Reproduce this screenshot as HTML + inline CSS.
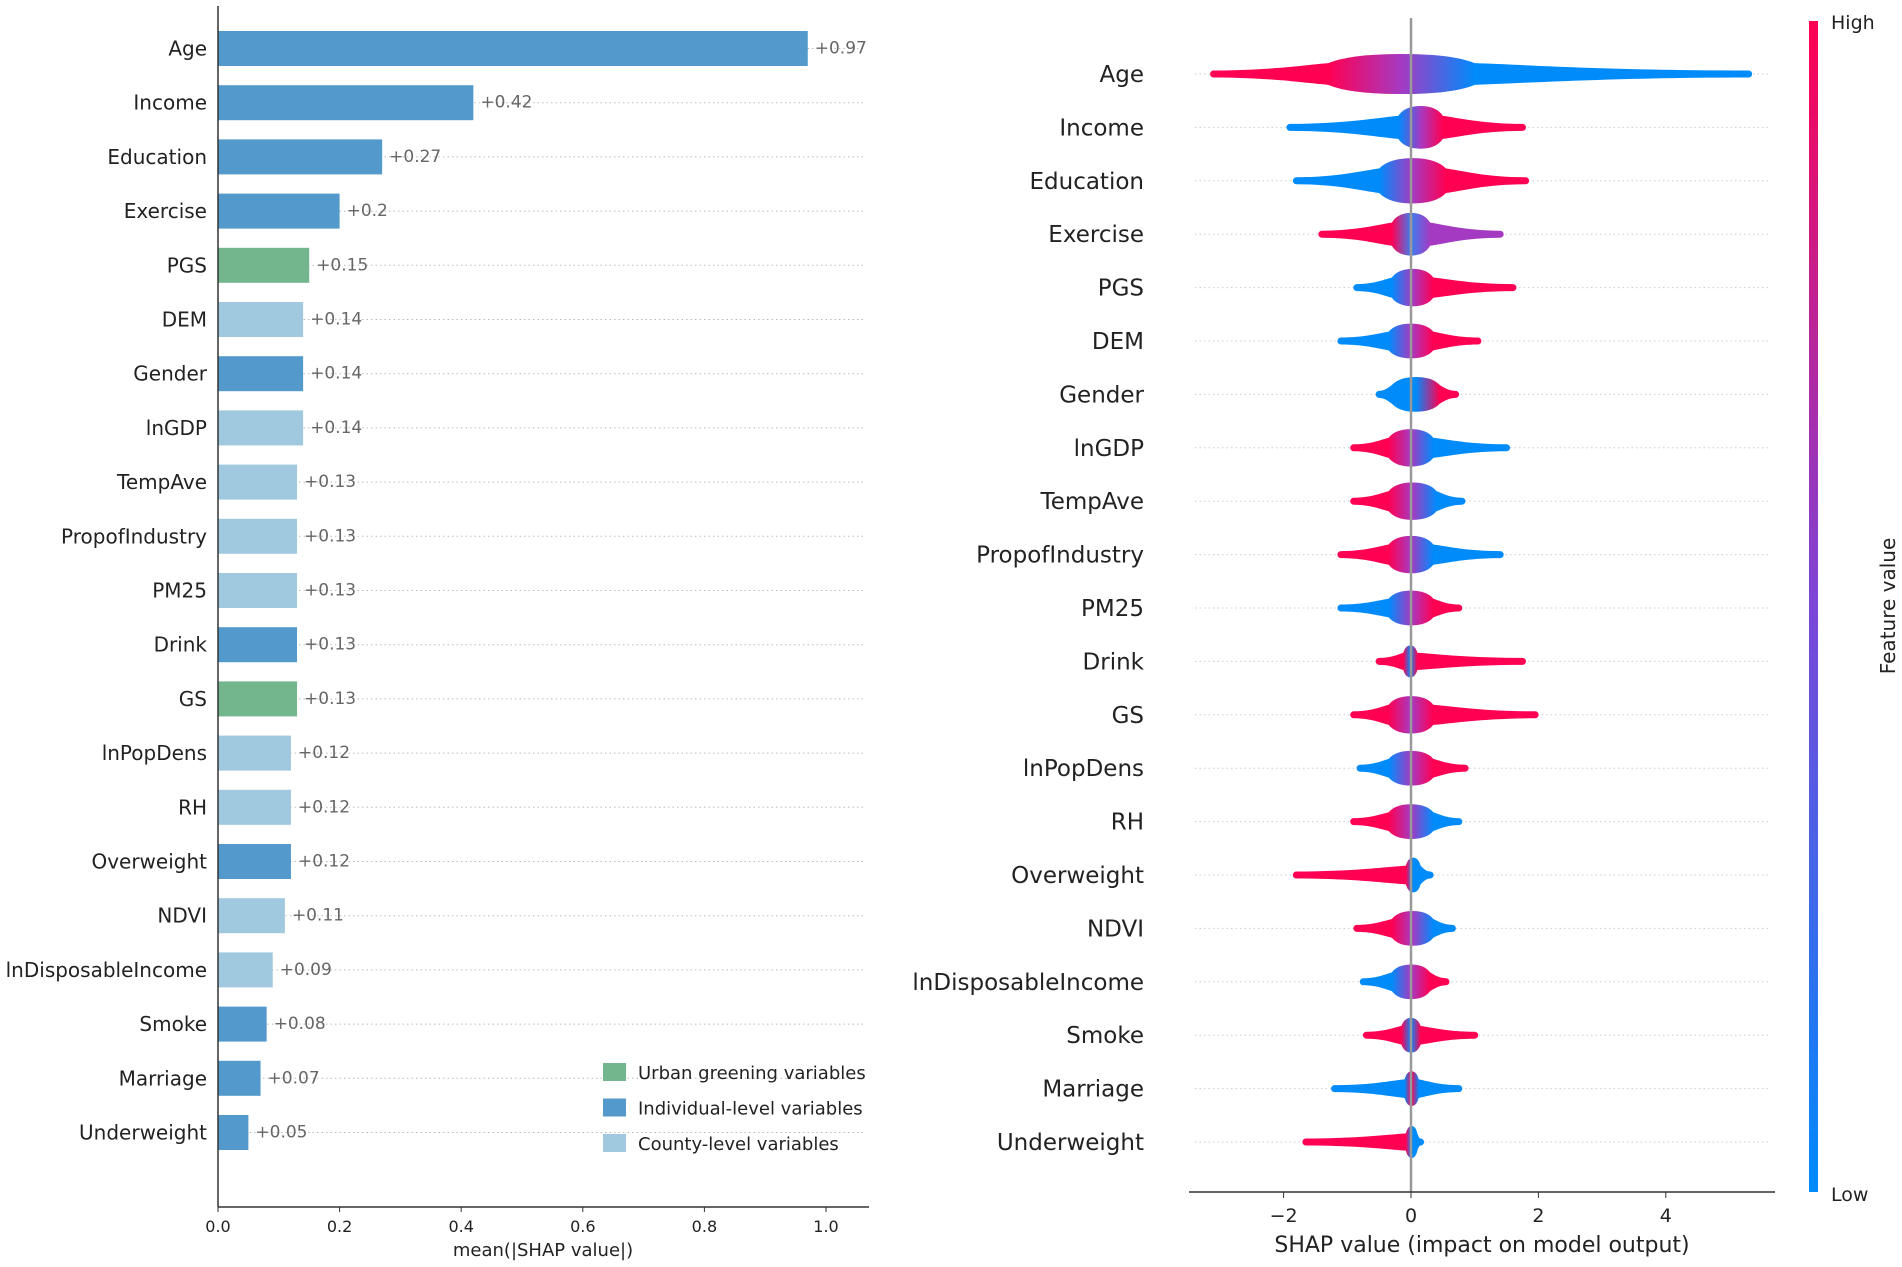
<!DOCTYPE html>
<html><head><meta charset="utf-8">
<style>
html,body{margin:0;padding:0;background:#fff;}
svg{display:block;font-family:"DejaVu Sans","Liberation Sans",sans-serif;}
</style></head>
<body>
<svg id="chart" width="1902" height="1267" viewBox="0 0 1902 1267">
<defs>
<linearGradient id="cbar" x1="0" y1="1" x2="0" y2="0">
<stop offset="0" stop-color="#008bfb"/><stop offset="0.5" stop-color="#7c46d8"/><stop offset="1" stop-color="#ff0052"/>
</linearGradient>
</defs>
<g id="left"></g>
<g id="right"></g>
</svg>
<script>
const features = ["Age","Income","Education","Exercise","PGS","DEM","Gender","lnGDP","TempAve","PropofIndustry","PM25","Drink","GS","lnPopDens","RH","Overweight","NDVI","lnDisposableIncome","Smoke","Marriage","Underweight"];
const meanAbs = [0.97,0.42,0.27,0.2,0.15,0.14,0.14,0.14,0.13,0.13,0.13,0.13,0.13,0.12,0.12,0.12,0.11,0.09,0.08,0.07,0.05];
const valueLabels = ["+0.97","+0.42","+0.27","+0.2","+0.15","+0.14","+0.14","+0.14","+0.13","+0.13","+0.13","+0.13","+0.13","+0.12","+0.12","+0.12","+0.11","+0.09","+0.08","+0.07","+0.05"];
const groups = ["ind","ind","ind","ind","green","county","ind","county","county","county","county","ind","green","county","county","ind","county","county","ind","ind","ind"];
const barTicks = [0,0.2,0.4,0.6,0.8,1.0];
const barTickLabels = ["0.0","0.2","0.4","0.6","0.8","1.0"];
const legendLabels = ["Urban greening variables","Individual-level variables","County-level variables"];
const legendGroups = ["green","ind","county"];
// beeswarm summary per feature
const shapMin = [-3.1,-1.9,-1.8,-1.4,-0.85,-1.1,-0.5,-0.9,-0.9,-1.1,-1.1,-0.5,-0.9,-0.8,-0.9,-1.8,-0.85,-0.75,-0.7,-1.2,-1.65];
const shapMax = [5.3,1.75,1.8,1.4,1.6,1.05,0.7,1.5,0.8,1.4,0.75,1.75,1.95,0.85,0.75,0.3,0.65,0.55,1.0,0.75,0.15];
const coreLeft = [-1.3,-0.2,-0.5,-0.3,-0.3,-0.35,-0.3,-0.35,-0.35,-0.35,-0.35,-0.12,-0.35,-0.35,-0.35,-0.08,-0.3,-0.3,-0.15,-0.1,-0.08];
const coreRight = [1.0,0.5,0.55,0.3,0.35,0.35,0.45,0.35,0.4,0.35,0.35,0.1,0.35,0.35,0.35,0.15,0.35,0.3,0.15,0.12,0.1];
const coreHeight = [0.75,0.8,0.85,0.8,0.7,0.65,0.65,0.7,0.7,0.7,0.65,0.6,0.7,0.65,0.65,0.65,0.65,0.65,0.65,0.65,0.6];
const leftVal = ["high","low","low","high","low","low","low","high","high","high","low","high","high","low","high","high","high","low","high","low","high"];
const rightVal = ["low","high","high","mid","high","high","high","low","low","low","high","high","high","high","low","low","low","high","high","low","low"];
const coreVal = ["mid","mid","mid","midlow","mid","mid","low","mid","mid","mid","mid","low","mid","mid","mid","low","mid","mid","low","high","low"];
const shapTicks = [-2,0,2,4];
const shapTickLabels = ["\u22122","0","2","4"];

const NS="http://www.w3.org/2000/svg";
function mk(tag,attrs,parent,txt){const e=document.createElementNS(NS,tag);for(const k in attrs)e.setAttribute(k,attrs[k]);if(txt!==undefined)e.textContent=txt;parent.appendChild(e);return e;}
const COL={ind:"#5499cb",county:"#a0c8de",green:"#73b58c"};
const VC={high:"#ff0052",low:"#008bfb",mid:"#a53ac2",midlow:"#3d7ef0"};

// ---- left bar chart
const L=document.getElementById('left');
const x0=218,xs=608,yTop=48.5,rowL=54.2,barH=35;
const bx=v=>x0+v*xs, byL=i=>yTop+i*rowL;
features.forEach((f,i)=>{
  const y=byL(i);
  const g=mk('line',{x1:x0,x2:866,y1:y,y2:y,stroke:"#bbb","stroke-width":1,"stroke-dasharray":"1.5 3"},L);
  
  
  const r=mk('rect',{x:x0,y:y-barH/2,width:bx(meanAbs[i])-x0,height:barH,fill:COL[groups[i]]},L);
  
  
  const t=mk('text',{x:207,y:y+7,"text-anchor":"end","font-size":20,fill:"#222"},L,f);
  
  
  const v=mk('text',{x:bx(meanAbs[i])+7,y:y+5,"font-size":17,fill:"#666"},L,valueLabels[i]);
  
  
});
let a=mk('line',{x1:x0,x2:x0,y1:6,y2:1207,stroke:"#333","stroke-width":1.5},L);

a=mk('line',{x1:x0,x2:869,y1:1207,y2:1207,stroke:"#333","stroke-width":1.5},L);

barTicks.forEach((t,i)=>{
  mk('line',{x1:bx(t),x2:bx(t),y1:1207,y2:1212,stroke:"#333"},L);
  const tl=mk('text',{x:bx(t),y:1232,"text-anchor":"middle","font-size":16,fill:"#222"},L,barTickLabels[i]);
  
  
});
a=mk('text',{x:543,y:1256,"text-anchor":"middle","font-size":18,fill:"#222"},L,"mean(|SHAP value|)");

legendLabels.forEach((lab,i)=>{
  const y=1072+i*35.5;
  const s=mk('rect',{x:603,y:y-9,width:23,height:18,fill:COL[legendGroups[i]]},L);
  
  
  const t=mk('text',{x:638,y:y+7,"font-size":18,fill:"#222"},L,lab);
  
  
});

// ---- right beeswarm
const R=document.getElementById('right');
const sx0=1411,su=63.7,sTop=74,rowR=53.4;
const sxf=v=>sx0+v*su, syf=i=>sTop+i*rowR;
const defs=document.querySelector('defs');
features.forEach((f,i)=>{
  const y=syf(i);
  const gl=mk('line',{x1:1195,x2:1770,y1:y,y2:y,stroke:"#ccc","stroke-width":1,"stroke-dasharray":"1.5 3"},R);
  
  
  const t=mk('text',{x:1144,y:y+8,"text-anchor":"end","font-size":23,fill:"#222"},R,f);
  
  
  const xa=sxf(shapMin[i]),xb=sxf(shapMax[i]),cl=sxf(coreLeft[i]),cr=sxf(coreRight[i]);
  const gid='g'+i;
  const lg=mk('linearGradient',{id:gid,gradientUnits:"userSpaceOnUse",x1:xa,x2:xb,y1:0,y2:0},defs);
  const w=xb-xa;
  mk('stop',{offset:0,"stop-color":VC[leftVal[i]]},lg);
  mk('stop',{offset:Math.max(0,(cl-xa)/w),"stop-color":VC[leftVal[i]]},lg);
  mk('stop',{offset:((cl+cr)/2-xa)/w,"stop-color":VC[coreVal[i]]},lg);
  mk('stop',{offset:Math.min(1,(cr-xa)/w),"stop-color":VC[rightVal[i]]},lg);
  mk('stop',{offset:1,"stop-color":VC[rightVal[i]]},lg);
  const h=coreHeight[i]*rowR/2;
  const bodyH=h*0.45;
  const d=`M${xa},${y-3.5} C${(xa+cl)/2},${y-3.5} ${cl-(cl-xa)*0.2},${y-bodyH} ${cl},${y-bodyH*1.2}
   Q${cl+(cr-cl)*0.15},${y-h} ${(cl+cr)/2},${y-h} Q${cr-(cr-cl)*0.15},${y-h} ${cr},${y-bodyH*1.2}
   C${cr+(xb-cr)*0.2},${y-bodyH} ${(cr+xb)/2},${y-3.5} ${xb},${y-3.5}
   A3.5,3.5 0 0 1 ${xb},${y+3.5}
   C${(cr+xb)/2},${y+3.5} ${cr+(xb-cr)*0.2},${y+bodyH} ${cr},${y+bodyH*1.2}
   Q${cr-(cr-cl)*0.15},${y+h} ${(cl+cr)/2},${y+h} Q${cl+(cr-cl)*0.15},${y+h} ${cl},${y+bodyH*1.2}
   C${cl-(cl-xa)*0.2},${y+bodyH} ${(xa+cl)/2},${y+3.5} ${xa},${y+3.5} A3.5,3.5 0 0 1 ${xa},${y-3.5}Z`;
  const p=mk('path',{d:d,fill:`url(#${gid})`},R);
  
  
});
a=mk('line',{x1:sx0,x2:sx0,y1:18,y2:1192,stroke:"#999","stroke-width":2.5},R);

a=mk('line',{x1:1189,x2:1775,y1:1192,y2:1192,stroke:"#333","stroke-width":1.5},R);

shapTicks.forEach((t,i)=>{
  mk('line',{x1:sxf(t),x2:sxf(t),y1:1192,y2:1198,stroke:"#333"},R);
  const tl=mk('text',{x:sxf(t),y:1222,"text-anchor":"middle","font-size":19,fill:"#222"},R,shapTickLabels[i]);
  
  
});
a=mk('text',{x:1482,y:1252,"text-anchor":"middle","font-size":22,fill:"#222"},R,"SHAP value (impact on model output)");

a=mk('rect',{x:1809,y:21,width:9,height:1171,fill:"url(#cbar)"},R);

a=mk('text',{x:1831,y:29,"font-size":19,fill:"#222"},R,"High");

a=mk('text',{x:1831,y:1201,"font-size":19,fill:"#222"},R,"Low");

a=mk('text',{x:1895,y:606,"text-anchor":"middle","font-size":20,fill:"#222",transform:"rotate(-90 1895 606)"},R,"Feature value");

</script>
</body></html>
